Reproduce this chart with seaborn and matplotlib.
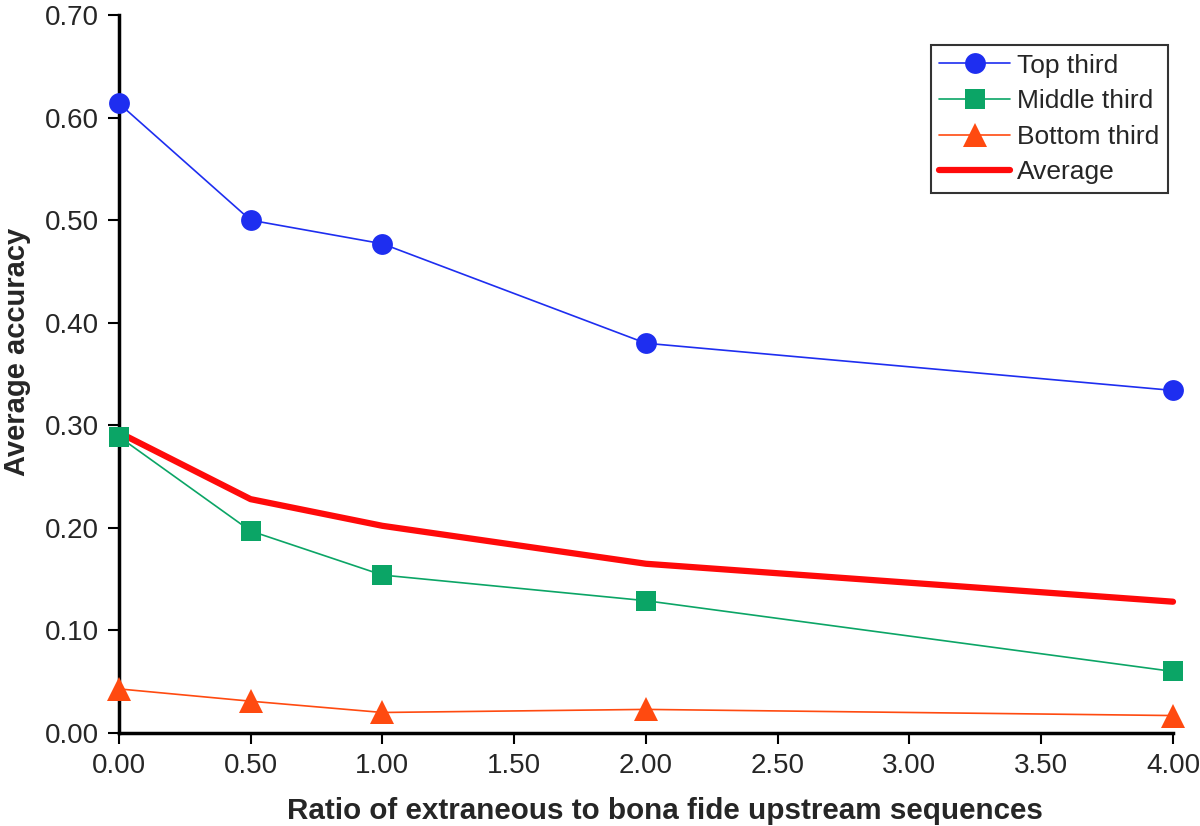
import numpy as np
import pandas as pd
import matplotlib
matplotlib.use("Agg")
import matplotlib.pyplot as plt
import seaborn as sns

# ratio of extraneous to bona fide upstream sequences
ratio = [0.0, 0.5, 1.0, 2.0, 4.0]

top_third = [0.614, 0.500, 0.477, 0.380, 0.334]
middle_third = [0.289, 0.197, 0.154, 0.129, 0.060]
bottom_third = [0.043, 0.031, 0.020, 0.023, 0.017]
average = [0.293, 0.228, 0.202, 0.165, 0.128]

x_ticks = [0.0, 0.5, 1.0, 1.5, 2.0, 2.5, 3.0, 3.5, 4.0]
y_ticks = [0.0, 0.1, 0.2, 0.3, 0.4, 0.5, 0.6, 0.7]

sns.set_style("white")
plt.rcParams["font.family"] = ["Liberation Sans", "DejaVu Sans"]

fig = plt.figure(figsize=(12, 8.26), dpi=100)
ax = fig.add_axes([0.099, 0.1126, 0.8785, 0.8692])

sns.lineplot(x=ratio, y=top_third, ax=ax, color="#1E2EF0", lw=1.2,
             marker="o", markersize=15, markeredgewidth=0, label="Top third")
sns.lineplot(x=ratio, y=middle_third, ax=ax, color="#0BA566", lw=1.2,
             marker="s", markersize=15, markeredgewidth=0, label="Middle third")
sns.lineplot(x=ratio, y=bottom_third, ax=ax, color="#FF4A10", lw=1.2,
             marker="^", markersize=17, markeredgewidth=0, label="Bottom third")
sns.lineplot(x=ratio, y=average, ax=ax, color="#FF0A0A", lw=4.5,
             label="Average", zorder=1)

ax.set_xlim(0, 4)
ax.set_ylim(0, 0.70)
ax.set_xticks(x_ticks)
ax.set_yticks(y_ticks)
ax.set_xticklabels([f"{v:.2f}" for v in x_ticks])
ax.set_yticklabels([f"{v:.2f}" for v in y_ticks])
ax.tick_params(axis="both", direction="out", length=8, width=1.5,
               labelsize=20, bottom=True, left=True, pad=6.5, color="black")

for s in ["top", "right"]:
    ax.spines[s].set_visible(False)
for s in ["left", "bottom"]:
    ax.spines[s].set_linewidth(2.5)
    ax.spines[s].set_color("black")
    ax.spines[s].set_zorder(0)

ax.set_xlabel("Ratio of extraneous to bona fide upstream sequences",
              fontsize=21.3, fontweight="bold", labelpad=13)
ax.set_ylabel("Average accuracy", fontsize=21, fontweight="bold", labelpad=10)
ax.xaxis.label.set_x(0.518)
ax.yaxis.label.set_y(0.531)

leg = ax.legend(loc="upper right", bbox_to_anchor=(0.995, 0.958), fontsize=19,
                frameon=True, fancybox=False, handlelength=2.7,
                borderpad=0.32, labelspacing=0.44, handletextpad=0.25,
                borderaxespad=0)
leg.get_frame().set_edgecolor("black")
leg.get_frame().set_linewidth(1.5)

for line in ax.get_lines():
    line.set_clip_on(False)

fig.savefig("out.png", dpi=100)
